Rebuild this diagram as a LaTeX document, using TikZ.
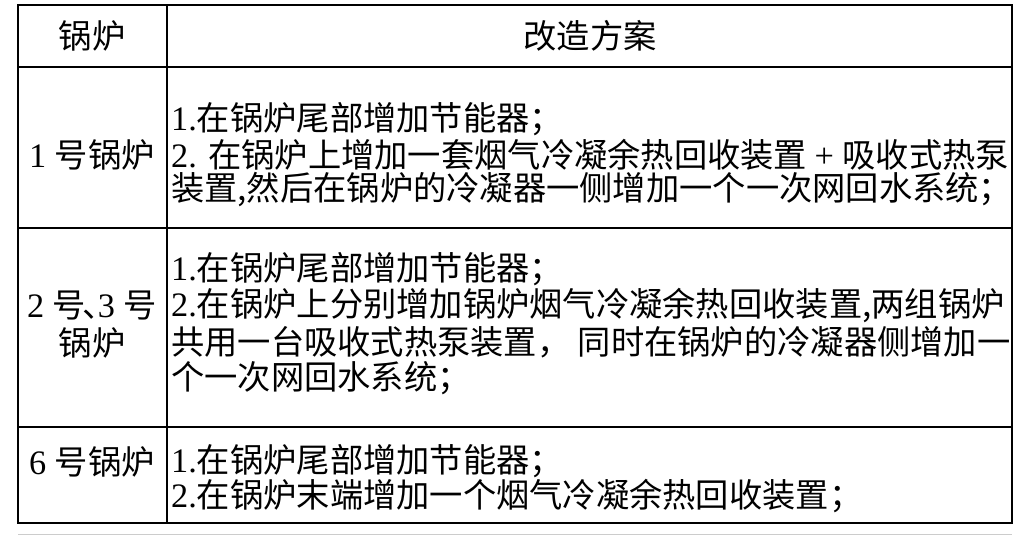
\documentclass[tikz,border=0pt]{standalone}
\usepackage{fontspec}
\setmainfont{Liberation Serif}
\newfontfamily\cjk{Noto Sans CJK SC}[Scale=0.97]
\begin{document}
\begin{tikzpicture}[x=1pt,y=-1pt,
  txt/.style={inner sep=0pt,anchor=west,font=\fontsize{34.3}{38}\selectfont},
  ctr/.style={inner sep=0pt,anchor=center,font=\fontsize{34.3}{38}\selectfont},
  rule/.style={line width=1.4pt},
  frame/.style={line width=2.6pt}]
\useasboundingbox (0,0) rectangle (1029,540);
\fill[white] (0,0) rectangle (1029,540);
\draw[rule] (18,67) -- (1012,67);
\draw[rule] (18,228) -- (1012,228);
\draw[rule] (18,427) -- (1012,427);
\draw[rule] (167,5) -- (167,523);
\draw[frame] (18,5) rectangle (1012,523);
\draw[gray!40,line width=1pt] (18,534) -- (1012,534);
\node[ctr] (h1) at (92,36) {\cjk 锅炉};
\node[ctr] (h2) at (590,36) {\cjk 改造方案};
\node[ctr] (b1) at (92,155) {1 \cjk 号锅炉};
\node[txt] (r1a) at (171,119) {1.\cjk 在锅炉尾部增加节能器；};
\node[txt] (r1b) at (171,155) {2. \cjk 在锅炉上增加一套烟气冷凝余热回收装置 \rmfamily + \cjk 吸收式热泵};
\node[txt] (r1c) at (171,190) {\cjk 装置,然后在锅炉的冷凝器一侧增加一个一次网回水系统；};
\node[ctr] (b2) at (92,306) {2 \cjk 号\kern-0.1em\raisebox{0pt}{\makebox[0.45em][l]{、}}\rmfamily 3 \cjk 号};
\node[ctr] (b2b) at (92,343) {\cjk 锅炉};
\node[txt] (r2a) at (171,269) {1.\cjk 在锅炉尾部增加节能器；};
\node[txt] (r2b) at (171,306) {2.\cjk 在锅炉上分别增加锅炉烟气冷凝余热回收装置,两组锅炉};
\node[txt] (r2c) at (171,342) {\cjk 共用一台吸收式热泵装置， 同时在锅炉的冷凝器侧增加一};
\node[txt] (r2d) at (171,378) {\cjk 个一次网回水系统；};
\node[ctr] (b3) at (92,462) {6 \cjk 号锅炉};
\node[txt] (r3a) at (171,461) {1.\cjk 在锅炉尾部增加节能器；};
\node[txt] (r3b) at (171,496) {2.\cjk 在锅炉末端增加一个烟气冷凝余热回收装置；};
\end{tikzpicture}
\end{document}
